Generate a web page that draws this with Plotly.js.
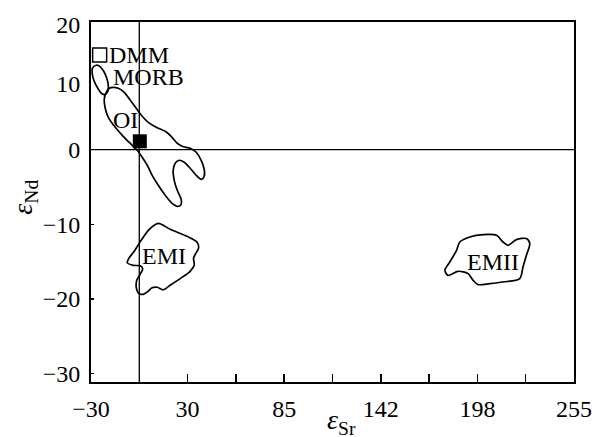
<!DOCTYPE html>
<html>
<head>
<meta charset="utf-8">
<script src="https://cdn.plot.ly/plotly-3.0.1.min.js"></script>
<style>html,body{margin:0;padding:0;background:#fff;}#chart{width:595px;height:437px;}</style>
</head>
<body>
<div id="chart"></div>
<script>
// ---- data (axis units) ----
const morbX = [-26.9,-24.5,-22.5,-20.7,-19.8,-20.1,-21.9,-23.9,-26.0,-28.1,-29.2,-29.2,-26.9];
const morbY = [11.29,11.08,10.48,9.54,8.61,7.80,7.36,7.54,8.21,9.14,10.08,10.88,11.29];

const oiX = [-16.9,-13.9,-10.4,-6.8,-3.3,0.2,3.8,8.5,13.8,17.3,20.3,23.8,28.5,32.1,35.0,36.8,36.8,35.0,32.1,28.5,25.0,22.0,19.7,18.5,19.1,20.9,23.2,23.2,21.4,17.9,13.8,9.7,6.1,3.2,0.2,-2.7,-6.3,-11.0,-15.7,-19.8,-21.6,-22.2,-21.0,-19.2,-16.9];
const oiY = [8.34,8.21,7.67,6.60,5.53,4.46,3.65,2.99,2.45,1.78,0.98,0.44,0.17,-0.36,-1.43,-2.64,-3.57,-3.98,-3.44,-2.50,-1.70,-1.43,-1.83,-2.77,-4.11,-5.45,-6.65,-7.32,-7.59,-7.19,-6.12,-4.78,-3.44,-2.10,-1.03,-0.09,0.71,1.78,2.99,4.32,5.53,6.73,7.67,8.21,8.34];

const emiX = [9.7,16.7,26.6,32.5,33.5,31.5,30.5,30.9,28.5,22.6,16.7,12.6,9.1,6.1,3.2,0.8,-1.8,-3.3,-3.0,-1.0,0.5,-1.0,-5.1,-8.6,-7.7,-4.5,-0.4,4.4,9.7];
const emiY = [-9.87,-10.67,-11.61,-12.37,-13.15,-14.02,-14.55,-15.49,-16.29,-17.27,-18.17,-18.77,-18.43,-18.50,-19.04,-19.37,-19.24,-18.43,-17.50,-16.69,-15.96,-15.56,-15.49,-15.15,-14.55,-13.61,-12.14,-10.67,-9.87];

const emiiX = [178.8,181.7,185.7,187.6,193.5,201.4,209.3,213.1,216.1,221.0,226.9,228.9,226.9,224.9,223.0,213.1,205.3,198.4,195.5,192.5,186.6,180.7,178.8];
const emiiY = [-16.16,-15.05,-13.48,-12.37,-11.70,-11.38,-11.47,-12.37,-12.81,-12.05,-11.91,-12.58,-14.15,-15.72,-17.27,-17.72,-17.94,-18.07,-17.50,-16.60,-16.29,-16.83,-16.16];

const dmmPoint = {x: [-24.9], y: [12.66]};
const samplePoint = {x: [-1.2], y: [1.11]};

const regionNames = ["DMM", "MORB", "OI", "EMI", "EMII"];
const labelX = [-19.8, -17.4, -9.8, 13.2, 207.1];
const labelY = [12.7, 9.75, 3.92, -14.28, -15.05];

const xTickVals = [-30,27,84,141,198,255];
const xTickText = ["\u221230","30","85","142","198","255"];
const xMinorVals = [-1.5,55.5,112.5,169.5,226.5];
const yTickVals = [-30,-20,-10,0,8.84,16.74];
const yTickText = ["\u221230","\u221220","\u221210","0","10","20"];
const yMinorTicks = [-30,-20,-10];
const refX = -1.5;   // vertical reference line (ε_Sr = 0)
const refY = 0;      // horizontal reference line (ε_Nd = 0)
const xRange = [-30, 255];
const yRange = [-31.11, 17.08];
const xTitle = "<i>\u03b5</i><sub>Sr</sub>";
const yTitle = "<i>\u03b5</i><sub>Nd</sub>";

// ---- plot ----
const FONT = "'Liberation Serif', 'Times New Roman', Times, serif";
function outline(x, y) {
  return {x: x, y: y, type: "scatter", mode: "lines",
          line: {color: "black", width: 1.7, shape: "spline", smoothing: 0.8},
          hoverinfo: "skip", showlegend: false};
}
const traces = [
  outline(morbX, morbY),
  outline(oiX, oiY),
  outline(emiX, emiY),
  outline(emiiX, emiiY),
  {x: dmmPoint.x, y: dmmPoint.y, type: "scatter", mode: "markers",
   marker: {symbol: "square-open", size: 14, color: "black", line: {width: 1.5, color: "black"}}, showlegend: false},
  {x: samplePoint.x, y: samplePoint.y, type: "scatter", mode: "markers",
   marker: {symbol: "square", size: 14, color: "black"}, showlegend: false}
];

const annotations = regionNames.map((t, i) => ({
  x: labelX[i], y: labelY[i], text: t, showarrow: false,
  xanchor: (i < 2 ? "left" : "center"), yanchor: "middle",
  font: {family: FONT, size: 24, color: "black"}, borderpad: 0, height: 20
}));
annotations.push({xref: "paper", yref: "paper", x: 0.518, y: -0.058, xanchor: "center", yanchor: "top",
  text: xTitle, showarrow: false, font: {family: FONT, size: 28, color: "black"}, borderpad: 0});
annotations.push({xref: "paper", yref: "paper", x: -0.137, y: 0.514, xanchor: "center", yanchor: "middle",
  textangle: -90, text: yTitle, showarrow: false, font: {family: FONT, size: 28, color: "black"}, borderpad: 0});

const layout = {
  width: 595, height: 437,
  margin: {l: 91, r: 21, t: 22, b: 55, pad: 0},
  paper_bgcolor: "white", plot_bgcolor: "white",
  font: {family: FONT, size: 24, color: "black"},
  showlegend: false,
  xaxis: {
    range: xRange, tickmode: "array", tickvals: xTickVals, ticktext: xTickText,
    ticks: "inside", ticklen: 8, tickwidth: 1.5, tickcolor: "black",
    minor: {tickmode: "array", tickvals: xMinorVals, ticks: "inside", ticklen: 8, tickwidth: 1.5, tickcolor: "black", showgrid: false},
    showline: true, linewidth: 2, linecolor: "black", mirror: true,
    showgrid: false, zeroline: false, ticklabelstandoff: 4,
    tickfont: {family: FONT, size: 24, color: "black"}
  },
  yaxis: {
    range: yRange, tickmode: "array", tickvals: yTickVals, ticktext: yTickText,
    ticks: "", showline: true, linewidth: 2, linecolor: "black", mirror: true,
    minor: {tickmode: "array", tickvals: yMinorTicks, ticks: "inside", ticklen: 3, tickwidth: 1.5, tickcolor: "black", showgrid: false},
    showgrid: false, zeroline: false, ticklabelstandoff: 4,
    tickfont: {family: FONT, size: 24, color: "black"}
  },
  shapes: [
    {type: "line", xref: "paper", yref: "y", x0: 0, x1: 1, y0: refY, y1: refY, line: {color: "black", width: 1.3}, layer: "below"},
    {type: "line", xref: "x", yref: "paper", x0: refX, x1: refX, y0: 0, y1: 1, line: {color: "black", width: 1.3}, layer: "below"}
  ],
  annotations: annotations
};

Plotly.newPlot("chart", traces, layout, {staticPlot: true, displayModeBar: false});
</script>
</body>
</html>
